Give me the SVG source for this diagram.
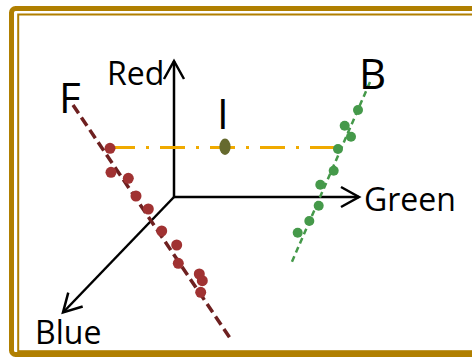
<svg xmlns="http://www.w3.org/2000/svg" width="472" height="357" viewBox="0 0 472 357">
<style>
.lbl{font-family:"Open Sans","Liberation Sans",sans-serif;fill:#000}
.ax{font-size:32px}
.big{font-size:42px}
.axis{stroke:#000;stroke-width:2.5;fill:none}
.rd{fill:#A03232}
.gd{fill:#45994A}
</style>
<defs>
<marker id="arr" markerUnits="userSpaceOnUse" viewBox="-21 -12 23 24" markerWidth="23" markerHeight="24" refX="0" refY="0" orient="auto" overflow="visible">
<path d="M-18,-10 L0,0 L-18,10" fill="none" stroke="#000" stroke-width="2.5"/>
</marker>
</defs>
<rect width="472" height="357" fill="#fff"/>
<g id="frame">
<rect x="11.5" y="8.5" width="480" height="346" rx="4" fill="none" stroke="#B07F00" stroke-width="5"/>
<rect x="18.2" y="14.5" width="480" height="336.7" fill="none" stroke="#B07F00" stroke-width="2"/>
</g>
<g id="connectors">
<line class="axis" x1="174" y1="197" x2="174" y2="61" marker-end="url(#arr)"/>
<line class="axis" x1="174" y1="197" x2="359" y2="197" marker-end="url(#arr)"/>
<line class="axis" x1="174" y1="197" x2="63" y2="312.5" marker-end="url(#arr)"/>
<line id="lineF" x1="73" y1="105" x2="230" y2="338" stroke="#6E2020" stroke-width="3.5" stroke-dasharray="10 5"/>
<line id="lineB" x1="370" y1="82" x2="291" y2="264" stroke="#45994A" stroke-width="2.5" stroke-dasharray="6 4"/>
<line id="lineI" x1="110" y1="147.5" x2="338" y2="147.5" stroke="#F0AA00" stroke-width="3" stroke-dasharray="25 11 3 11"/>
</g>
<g id="redDots">
<circle class="rd" cx="110" cy="148.3" r="5.5"/>
<circle class="rd" cx="111" cy="172.3" r="5.5"/>
<circle class="rd" cx="128.3" cy="178.3" r="5.5"/>
<circle class="rd" cx="136" cy="196" r="5.5"/>
<circle class="rd" cx="148.3" cy="209" r="5.5"/>
<circle class="rd" cx="161.7" cy="231" r="5.5"/>
<circle class="rd" cx="176.7" cy="245" r="5.5"/>
<circle class="rd" cx="178.3" cy="263.3" r="5.5"/>
<circle class="rd" cx="199.3" cy="274" r="5.5"/>
<circle class="rd" cx="202.3" cy="280.7" r="5.5"/>
<circle class="rd" cx="200.7" cy="292.3" r="5.5"/>
</g>
<g id="greenDots">
<circle class="gd" cx="358" cy="110" r="5"/>
<circle class="gd" cx="344.7" cy="125.7" r="5"/>
<circle class="gd" cx="351" cy="136.7" r="5"/>
<circle class="gd" cx="338" cy="149" r="5"/>
<circle class="gd" cx="333.7" cy="170.7" r="5"/>
<circle class="gd" cx="320.3" cy="184.7" r="5"/>
<circle class="gd" cx="318.7" cy="205.7" r="5"/>
<circle class="gd" cx="309.3" cy="221" r="5"/>
<circle class="gd" cx="297.7" cy="232.7" r="5"/>
</g>
<g id="pointI">
<ellipse cx="225" cy="146.7" rx="5.6" ry="8.2" fill="#666A2E"/>
</g>
<g id="labels">
<text class="lbl ax" x="107" y="85">Red</text>
<text class="lbl ax" x="364" y="211">Green</text>
<text class="lbl ax" x="35" y="344">Blue</text>
<text class="lbl big" x="59" y="113">F</text>
<text class="lbl big" x="359" y="89">B</text>
<text class="lbl big" x="217" y="129">I</text>
</g>
</svg>
